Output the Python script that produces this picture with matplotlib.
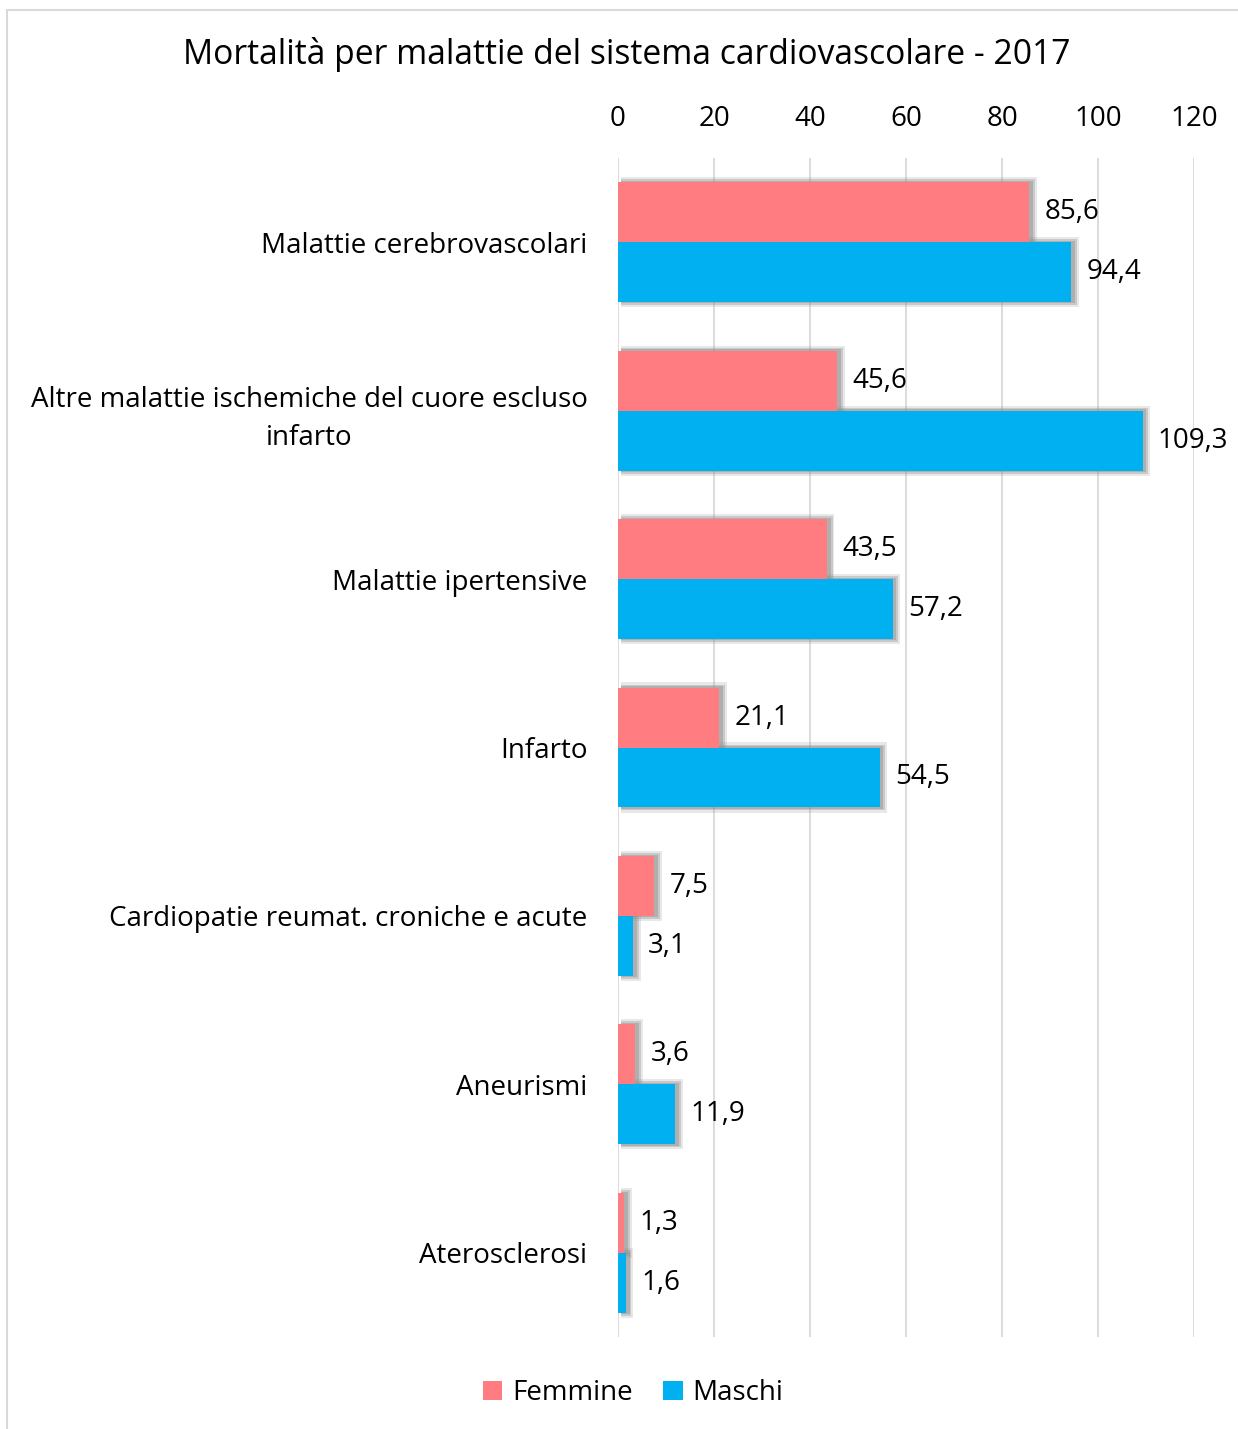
import matplotlib.pyplot as plt
from matplotlib.patches import Rectangle
import numpy as np

plt.rcParams['font.family'] = ['Open Sans', 'DejaVu Sans']

categorie = ['Malattie cerebrovascolari',
             'Altre malattie ischemiche del cuore escluso\ninfarto',
             'Malattie ipertensive',
             'Infarto',
             'Cardiopatie reumat. croniche e acute',
             'Aneurismi',
             'Aterosclerosi']
femmine = [85.6, 45.6, 43.5, 21.1, 7.5, 3.6, 1.3]
maschi = [94.4, 109.3, 57.2, 54.5, 3.1, 11.9, 1.6]
ticks = [0, 20, 40, 60, 80, 100, 120]

col_f = '#FF7C80'
col_m = '#00B0F0'
fs = 20

fig = plt.figure(figsize=(12.38, 14.29), dpi=100)
ax = fig.add_axes([618/1238, 1-1337/1429, (1194-618)/1238, (1337-158)/1429])

y = np.arange(len(categorie))
h = 60/168.5

# soft shadow behind the bars
for dx, dh, a in [(1.6, 0.06, 0.2), (1.2, 0.035, 0.35), (0.8, 0.015, 0.45)]:
    ax.barh(y-h/2, np.array(femmine)+dx-0.6, height=h+dh, left=0.6, color='#909090',
            alpha=a, zorder=2, linewidth=0)
    ax.barh(y+h/2, np.array(maschi)+dx-0.6, height=h+dh, left=0.6, color='#909090',
            alpha=a, zorder=2, linewidth=0)

ax.barh(y-h/2, femmine, height=h, color=col_f, label='Femmine', zorder=3)
ax.barh(y+h/2, maschi, height=h, color=col_m, label='Maschi', zorder=3)

def fmt(v):
    return ('%.1f' % v).replace('.', ',')

for yy, v in zip(y, femmine):
    ax.annotate(fmt(v), (v, yy-h/2), xytext=(11, 0), textcoords='offset points',
                va='center', ha='left', fontsize=fs)
for yy, v in zip(y, maschi):
    ax.annotate(fmt(v), (v, yy+h/2), xytext=(11, 0), textcoords='offset points',
                va='center', ha='left', fontsize=fs)

ax.set_xlim(0, 120)
ax.set_ylim(6.5, -0.5)
ax.set_xticks(ticks)
ax.set_xticklabels([str(t) for t in ticks], fontsize=fs)
ax.xaxis.tick_top()
ax.tick_params(axis='x', length=0, pad=18)
ax.set_yticks(y)
ax.set_yticklabels(categorie, fontsize=fs, multialignment='center', linespacing=1.45)
ax.tick_params(axis='y', length=0, pad=22)
ax.grid(axis='x', color='#d9d9d9', linewidth=1.3, zorder=0)
ax.set_axisbelow(True)
for s in ax.spines.values():
    s.set_visible(False)

fig.text(627/1238, 1-55/1429, 'Mortalità per malattie del sistema cardiovascolare - 2017',
         ha='center', va='center', fontsize=24.2)

fig.legend(loc='center', bbox_to_anchor=(633/1238, 1-1393/1429), ncol=2, frameon=False,
           fontsize=fs, handlelength=0.7, handleheight=0.7, columnspacing=1.1, handletextpad=0.35)

fig.patches.append(Rectangle((7/1238, -0.1), 1.2, 1.1-10/1429, transform=fig.transFigure,
                             fill=False, edgecolor='#d9d9d9', linewidth=1.5))

fig.savefig('out.png', dpi=100)
